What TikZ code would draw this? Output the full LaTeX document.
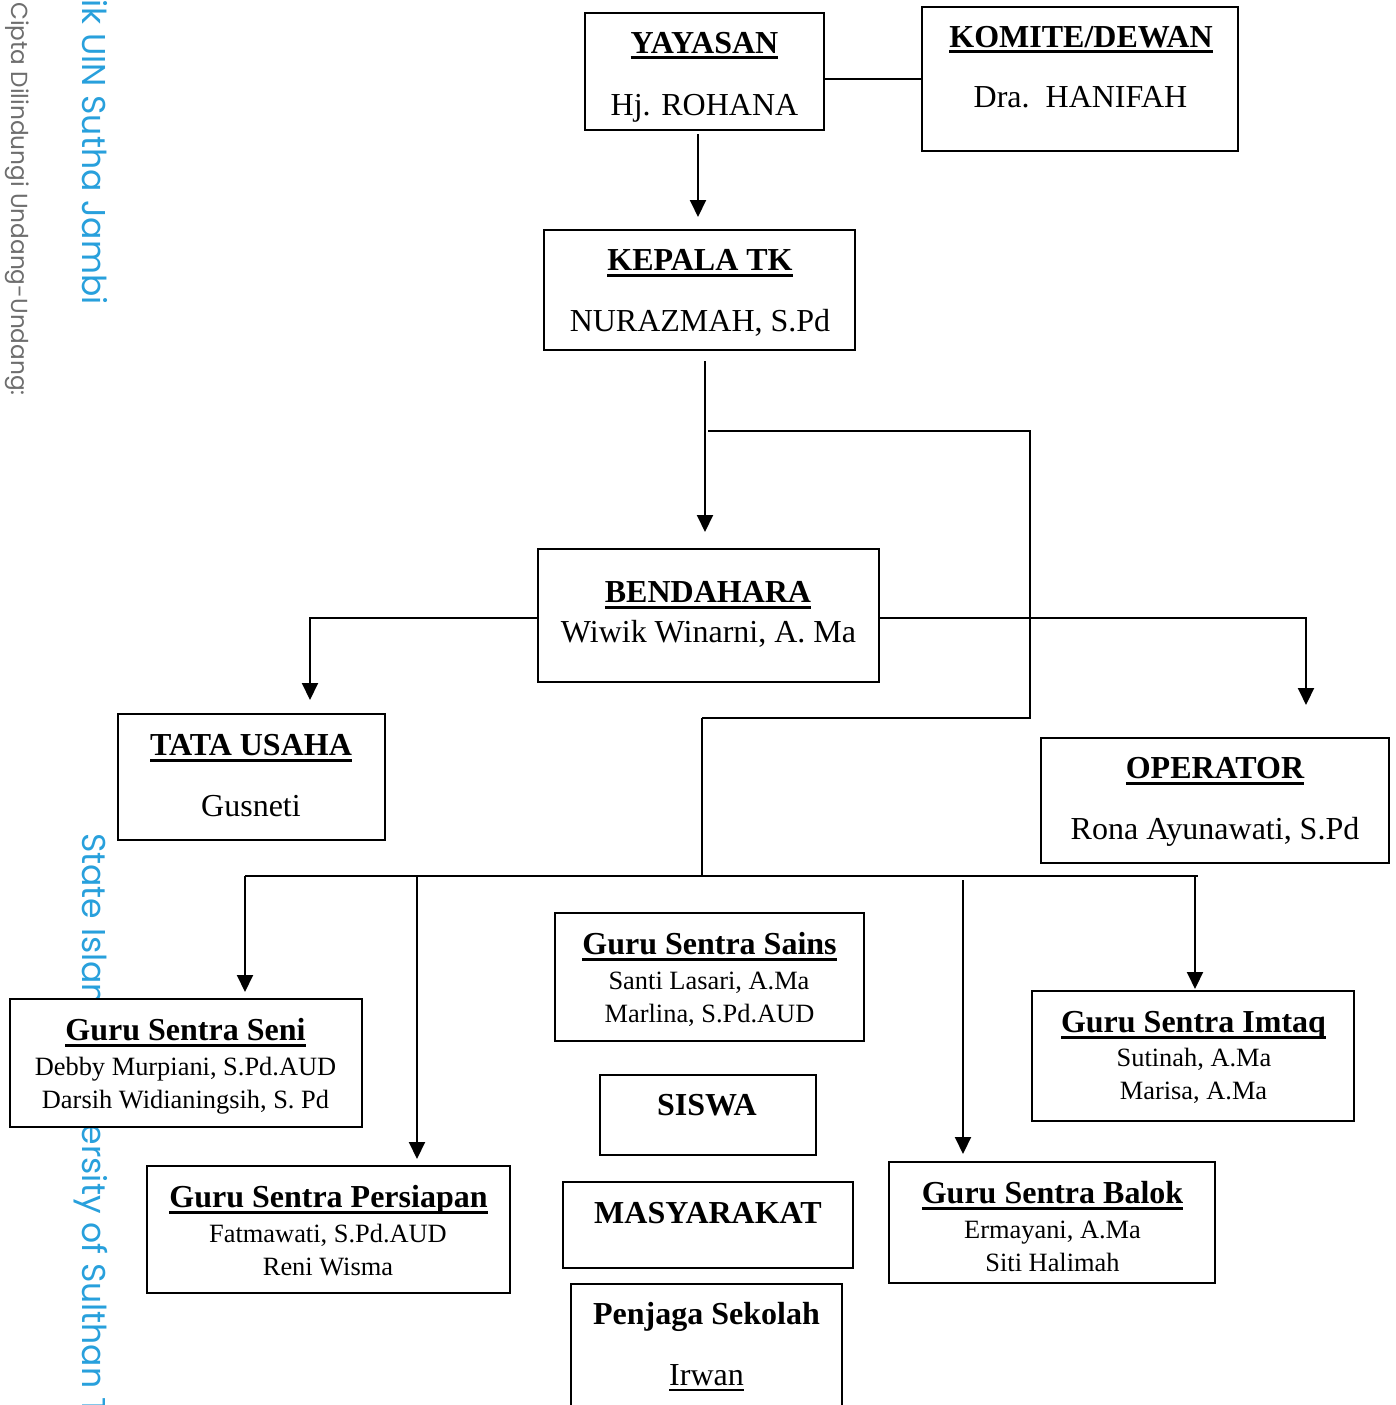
\documentclass[tikz,border=0pt]{standalone}
\usepackage{fontspec}
\setmainfont{Liberation Serif}
\newfontfamily\wmfont{Poppins}
\usetikzlibrary{arrows.meta,calc}
\definecolor{wmblue}{RGB}{40,160,220}
\definecolor{wmgray}{RGB}{110,110,110}
\newsavebox\ulbox
\newcommand{\hul}[1]{\sbox\ulbox{#1}\leavevmode\rlap{\rule[-6pt]{\wd\ulbox}{3pt}}\usebox\ulbox}
\newcommand{\tul}[1]{\sbox\ulbox{#1}\leavevmode\rlap{\rule[-5pt]{\wd\ulbox}{1.6pt}}\usebox\ulbox}
\tikzset{
  box/.style={draw, line width=2pt, fill=white, inner sep=0pt},
  hd/.style={anchor=base, inner sep=0pt, font=\fontsize{32}{38}\selectfont\bfseries},
  nm/.style={anchor=base, inner sep=0pt, font=\fontsize{32}{38}\selectfont},
  sm/.style={anchor=base, inner sep=0pt, font=\fontsize{26.4}{30}\selectfont},
  conn/.style={line width=2pt},
  thinconn/.style={line width=1.3pt},
  bus/.style={line width=2.4pt},
  arr/.style={line width=2pt, -{Triangle[width=16pt,length=17pt]}},
  wmb/.style={rotate=-90, anchor=base west, inner sep=0pt, text=wmblue, font=\wmfont\fontsize{33}{36}\selectfont},
  wmg/.style={rotate=-90, anchor=base west, inner sep=0pt, text=wmgray, font=\wmfont\fontsize{23.2}{26}\selectfont},
}
\begin{document}
\begin{tikzpicture}[x=1pt,y=-1pt]
\fill[white] (0,0) rectangle (1396,1405);
\useasboundingbox (0,0) rectangle (1396,1405);
% watermark
\node[wmg] (wm0) at (12,2) {Cipta Dilindungi Undang-Undang:};
\node[wmb] (wm1) at (82,-1) {ik UIN Sutha Jambi};
\node[wmb] (wm2) at (82,833) {State Islamic University of Sulthan T};
% boxes
\node[box, minimum width=239pt, minimum height=117pt] (yay) at (704.5,71.5) {};
\node[box, minimum width=316pt, minimum height=144pt] (kom) at (1080,79) {};
\node[box, minimum width=311pt, minimum height=120pt] (kep) at (699.5,290) {};
\node[box, minimum width=341pt, minimum height=133pt] (ben) at (708.5,615.5) {};
\node[box, minimum width=267pt, minimum height=126pt] (tu) at (251.5,777) {};
\node[box, minimum width=348pt, minimum height=125pt] (op) at (1215,800.5) {};
\node[box, minimum width=352pt, minimum height=128pt] (seni) at (186,1063) {};
\node[box, minimum width=363pt, minimum height=127pt] (pers) at (328.5,1229.5) {};
\node[box, minimum width=309pt, minimum height=128pt] (sains) at (709.5,977) {};
\node[box, minimum width=216pt, minimum height=80pt] (siswa) at (708,1115) {};
\node[box, minimum width=290pt, minimum height=86pt] (masy) at (708,1225) {};
\node[box, minimum width=271pt, minimum height=146pt] (penj) at (706.5,1357) {};
\node[box, minimum width=322pt, minimum height=130pt] (imtaq) at (1193,1056) {};
\node[box, minimum width=326pt, minimum height=121pt] (balok) at (1052,1222.5) {};
% texts
\node[hd] (yayT) at (704.5,53.5) {\hul{YAYASAN}};
\node[nm] (yayN) at (704.5,115.5) {Hj. ROHANA};
\node[hd] (komT) at (1081,47.5) {\hul{KOMITE/DEWAN}};
\node[nm] (komN) at (1080.5,107.5) {Dra.\ \ HANIFAH};
\node[hd] (kepT) at (700,270.5) {\hul{KEPALA TK}};
\node[nm] (kepN) at (700,331.5) {NURAZMAH, S.Pd};
\node[hd] (benT) at (708,602.5) {\hul{BENDAHARA}};
\node[nm] (benN) at (708.5,642.5) {Wiwik Winarni, A. Ma};
\node[hd] (tuT) at (251,755.5) {\hul{TATA USAHA}};
\node[nm] (tuN) at (251,816.5) {Gusneti};
\node[hd] (opT) at (1215,778.5) {\hul{OPERATOR}};
\node[nm] (opN) at (1215,839.5) {Rona Ayunawati, S.Pd};
\node[hd] (seniT) at (185.5,1040.5) {\hul{Guru Sentra Seni}};
\node[sm] (seniA) at (185.5,1075.5) {Debby Murpiani, S.Pd.AUD};
\node[sm] (seniB) at (185.5,1108.5) {Darsih Widianingsih, S. Pd};
\node[hd] (persT) at (328.5,1207.5) {\hul{Guru Sentra Persiapan}};
\node[sm] (persA) at (328,1242.5) {Fatmawati, S.Pd.AUD};
\node[sm] (persB) at (328,1275.5) {Reni Wisma};
\node[hd] (sainsT) at (709.5,954.5) {\hul{Guru Sentra Sains}};
\node[sm] (sainsA) at (709,989.5) {Santi Lasari, A.Ma};
\node[sm] (sainsB) at (709.5,1022.5) {Marlina, S.Pd.AUD};
\node[hd] (siswaT) at (707,1115.5) {SISWA};
\node[hd] (masyT) at (708,1223.5) {MASYARAKAT};
\node[hd] (penjT) at (706.5,1324.5) {Penjaga Sekolah};
\node[nm] (penjN) at (706.5,1385.5) {\tul{Irwan}};
\node[hd] (imtaqT) at (1193.5,1032.5) {\hul{Guru Sentra Imtaq}};
\node[sm] (imtaqA) at (1194,1066.5) {Sutinah, A.Ma};
\node[sm] (imtaqB) at (1193.5,1099.5) {Marisa, A.Ma};
\node[hd] (balokT) at (1052.5,1203.5) {\hul{Guru Sentra Balok}};
\node[sm] (balokA) at (1052.5,1238.5) {Ermayani, A.Ma};
\node[sm] (balokB) at (1052.5,1271.5) {Siti Halimah};
% connectors
\draw[conn] (yay.east |- kom.west) -- (kom.west);
\draw[arr] ($(yay.south)+(-6.5,3)$) -- ($(kep.north)+(-1.5,-12)$);
\draw[arr] ($(kep.south)+(5.5,10)$) -- ($(ben.north)+(-3.5,-16)$);
\coordinate (l1) at (708,431);
\coordinate (l2) at (1030,431);
\coordinate (l3) at (1030,718);
\coordinate (l4) at (702,718);
\coordinate (bus) at (702,876);
\draw[thinconn] (l1) -- (l2) -- (l3) -- (l4);
\draw[conn] (l4) -- (bus);
\draw[arr] ($(ben.west)+(0,2.5)$) -| ($(tu.north)+(58.5,-13)$);
\draw[arr] ($(ben.east)+(0,2.5)$) -| ($(op.north)+(91,-32)$);
\coordinate (busL) at (245,876);
\coordinate (busR) at (1198,876);
\coordinate (b2) at (417,876);
\coordinate (b3) at (963,880);
\coordinate (b4) at (1195,876);
\draw[bus] (busL) -- (busR);
\draw[arr] (busL) -- ($(seni.north)+(59,-6)$);
\draw[arr] (b2) -- ($(pers.north)+(88.5,-6)$);
\draw[arr] (b3) -- ($(balok.north)+(-89,-7)$);
\draw[arr] (b4) -- ($(imtaq.north)+(2,-1)$);
\end{tikzpicture}
\end{document}
